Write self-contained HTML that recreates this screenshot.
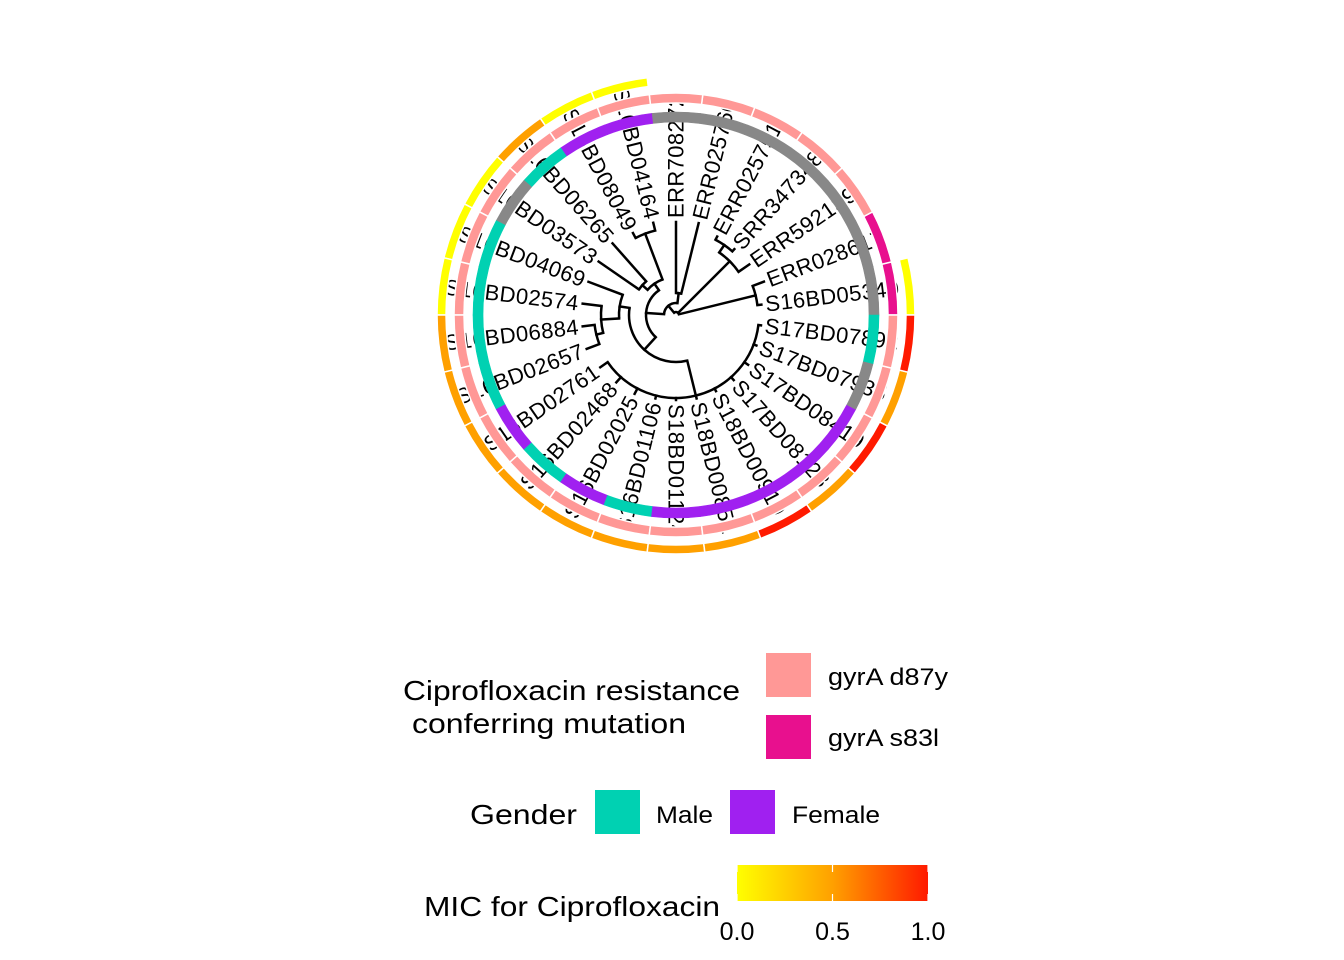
<!DOCTYPE html>
<html><head><meta charset="utf-8"><style>
html,body{margin:0;padding:0;background:#fff;}
svg{display:block;font-family:"Liberation Sans",Arial,sans-serif;}
</style></head><body>
<svg id="chart" width="1344" height="960" viewBox="0 0 1344 960" xmlns="http://www.w3.org/2000/svg">
<defs>
<linearGradient id="micgrad" x1="0" x2="1" y1="0" y2="0">
<stop offset="0" stop-color="#FFFF00"/><stop offset="0.5" stop-color="#FFA000"/><stop offset="1" stop-color="#FF1A00"/>
</linearGradient>
</defs>
<g id="labels"></g>
<g id="tree"></g>
<g id="rings"></g>
<g id="legend">
  <text x="403" y="700" font-size="28" textLength="337" lengthAdjust="spacingAndGlyphs">Ciprofloxacin resistance</text>
  <text x="412" y="733" font-size="28" textLength="274" lengthAdjust="spacingAndGlyphs">conferring mutation</text>
  <rect x="766" y="653" width="45" height="44" fill="#FF9896"/>
  <text x="828" y="685" font-size="24" textLength="120" lengthAdjust="spacingAndGlyphs">gyrA d87y</text>
  <rect x="766" y="715" width="45" height="44" fill="#E8108E"/>
  <text x="828" y="746" font-size="24" textLength="111" lengthAdjust="spacingAndGlyphs">gyrA s83l</text>
  <text x="470" y="824" font-size="28" textLength="107" lengthAdjust="spacingAndGlyphs">Gender</text>
  <rect x="595" y="790" width="45" height="44" fill="#00D1B2"/>
  <text x="656" y="823" font-size="24" textLength="57" lengthAdjust="spacingAndGlyphs">Male</text>
  <rect x="730" y="790" width="45" height="44" fill="#A020F0"/>
  <text x="792" y="823" font-size="24" textLength="88" lengthAdjust="spacingAndGlyphs">Female</text>
  <text x="424" y="916" font-size="28" textLength="296" lengthAdjust="spacingAndGlyphs">MIC for Ciprofloxacin</text>
  <rect x="737" y="865" width="191" height="36" fill="url(#micgrad)"/>
  <g id="cbticks"></g>
</g>
</svg>
<script>
const tipLabels = ["S16BD05340","ERR028617","ERR592139","SRR347348","ERR025751","ERR025760","ERR708272","S16BD04164","S16BD08049","S16BD06265","S16BD03573","S16BD04069","S16BD02574","S16BD06884","S16BD02657","S16BD02761","S16BD02468","S16BD02025","S16BD01106","S18BD01124","S18BD00851","S18BD00910","S17BD08128","S17BD08419","S17BD07935","S17BD07892"];
const tipDepth = [86,94,89,88,88.6,94.6,93,95,92.6,95.7,94,93.6,94,94,95.5,92,90,89,86,85,86,86,87,87.6,86,85.6];
const gender = ["NA","NA","NA","NA","NA","NA","NA","Female","Female","Male","NA","Male","Male","Male","Male","Female","Male","Female","Male","Female","Female","Female","Female","Female","NA","Male"];
const mutation = ["gyrA s83l","gyrA s83l","gyrA d87y","gyrA d87y","gyrA d87y","gyrA d87y","gyrA d87y","gyrA d87y","gyrA d87y","gyrA d87y","gyrA d87y","gyrA d87y","gyrA d87y","gyrA d87y","gyrA d87y","gyrA d87y","gyrA d87y","gyrA d87y","gyrA d87y","gyrA d87y","gyrA d87y","gyrA d87y","gyrA d87y","gyrA d87y","gyrA d87y","gyrA d87y"];
const mic = [0,null,null,null,null,null,null,0,0,0.5,0,0,0,0.5,0.5,0.5,0.5,0.5,0.5,0.5,0.5,1,0.5,1,0.5,1];
const nodeIds = ["n01","n34","n234","n56","n78","n910","n7810","n1314","n1214","n1114","nbot","nlow","nleft","nup","root"];
const nodeDepth = [82,85,76,22,87,45,38,82,75,57,83,47,30,12,3];
const nodeChildren = [[0,1],[3,4],[2,"n34"],[5,6],[7,8],[9,10],["n78","n910"],[13,14],[12,"n1314"],[11,"n1214"],[15,16,17,18,19,20,21,22,23,24,25],["n1114","nbot"],["n7810","nlow"],["n56","nleft"],["n01","n234","nup"]];
const cbTickLabels = ["0.0","0.5","1.0"];
const cbTickValues = [0,0.5,1];

const NS="http://www.w3.org/2000/svg";
const CX=676, CY=315, N=tipLabels.length, STEP=360/N;
const genderColor={"Male":"#00D1B2","Female":"#A020F0","NA":"#888888"};
const mutColor={"gyrA d87y":"#FF9896","gyrA s83l":"#E8108E"};
function micColor(v){
  const a=[255,255,0], b=[255,160,0], c=[255,26,0];
  let p,q,t; if(v<=0.5){p=a;q=b;t=v/0.5;}else{p=b;q=c;t=(v-0.5)/0.5;}
  return "rgb("+p.map((x,i)=>Math.round(x+(q[i]-x)*t)).join(",")+")";
}
function tipAngle(k){return (k+0.5)*STEP;}
function pt(r,a){const t=a*Math.PI/180;return [CX+r*Math.cos(t), CY-r*Math.sin(t)];}
function mk(tag,attrs,parent){const e=document.createElementNS(NS,tag);for(const k in attrs)e.setAttribute(k,attrs[k]);parent.appendChild(e);return e;}

const info={};
for(let k=0;k<N;k++){info[k]={r:tipDepth[k],a:tipAngle(k)};}
nodeIds.forEach((id,i)=>{
  const ch=nodeChildren[i].map(c=>info[c]);
  const as=ch.map(c=>c.a);
  info[id]={r:nodeDepth[i],a:(Math.min(...as)+Math.max(...as))/2,min:Math.min(...as),max:Math.max(...as)};
});
const tree=document.getElementById("tree");
nodeIds.forEach((id,i)=>{
  const n=info[id];
  const p1=pt(n.r,n.min), p2=pt(n.r,n.max);
  const large=(n.max-n.min)>180?1:0;
  const arc=mk("path",{d:`M${p1[0]},${p1[1]} A${n.r},${n.r} 0 ${large} 0 ${p2[0]},${p2[1]}`,fill:"none",stroke:"#000","stroke-width":2.5},tree);
  
  
  nodeChildren[i].forEach(c=>{
    const ci=info[c];
    const a=pt(n.r,ci.a), b=pt(ci.r,ci.a);
    const ln=mk("line",{x1:a[0],y1:a[1],x2:b[0],y2:b[1],stroke:"#000","stroke-width":2.5,"stroke-linecap":"square"},tree);
    
    
  });
});
const lg=document.getElementById("labels");
for(let k=0;k<N;k++){
  const a=tipAngle(k), r=tipDepth[k]+4;
  const p=pt(r,a);
  const left=a>90&&a<270;
  const rot=left?(-a+180):(-a);
  const t=mk("text",{x:p[0],y:p[1],"font-size":22,"letter-spacing":"0.4","dominant-baseline":"central","text-anchor":left?"end":"start",transform:`rotate(${rot} ${p[0]} ${p[1]})`},lg);
  t.textContent=tipLabels[k];
  
  
}
const rg=document.getElementById("rings");
function sector(r0,r1,a0,a1,fill,stroke){
  const p1=pt(r1,a0),p2=pt(r1,a1),p3=pt(r0,a1),p4=pt(r0,a0);
  const attrs={d:`M${p1[0]},${p1[1]} A${r1},${r1} 0 0 0 ${p2[0]},${p2[1]} L${p3[0]},${p3[1]} A${r0},${r0} 0 0 1 ${p4[0]},${p4[1]} Z`,fill:fill};
  if(stroke){attrs.stroke="#fff";attrs["stroke-width"]=1.5;} else {attrs.stroke=fill;attrs["stroke-width"]=0.6;}
  return mk("path",attrs,rg);
}
for(let k=0;k<N;k++){
  const a0=k*STEP,a1=(k+1)*STEP;
  const g=sector(193,203,a0,a1,genderColor[gender[k]],false);
  
  
  const m=sector(212,222,a0,a1,mutColor[mutation[k]],true);
  
  
  if(mic[k]!==null){
    const c=sector(230,239,a0,a1,micColor(mic[k]),true);
    
    
  }
}
const ct=document.getElementById("cbticks");
cbTickValues.forEach((v,i)=>{
  const x=737+v*191;
  const t1=mk("line",{x1:x,y1:865,x2:x,y2:872,stroke:"#fff","stroke-width":1.2},ct);
  
  
  const t2=mk("line",{x1:x,y1:894,x2:x,y2:901,stroke:"#fff","stroke-width":1.2},ct);
  
  
  const tx=mk("text",{x:x,y:940,"font-size":25,"text-anchor":"middle"},ct);
  tx.textContent=cbTickLabels[i];
  
  
});
</script>
</body></html>
